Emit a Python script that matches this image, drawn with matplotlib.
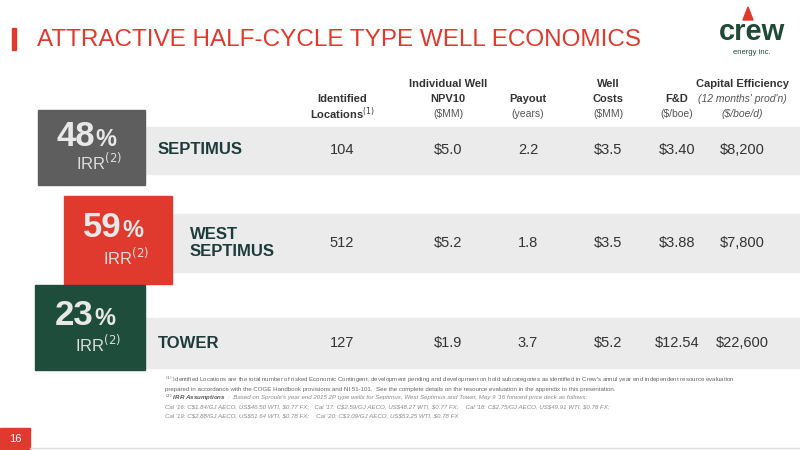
import matplotlib
matplotlib.use("Agg")
import matplotlib.pyplot as plt
from matplotlib.patches import Rectangle, Polygon

plt.rcParams['font.family'] = ['Liberation Sans', 'DejaVu Sans']

areas = ["SEPTIMUS", "WEST\nSEPTIMUS", "TOWER"]
irr = ["48", "59", "23"]
locations = ["104", "512", "127"]
npv10 = ["$5.0", "$5.2", "$1.9"]
payout = ["2.2", "1.8", "3.7"]
well_costs = ["$3.5", "$3.5", "$5.2"]
fd = ["$3.40", "$3.88", "$12.54"]
cap_eff = ["$8,200", "$7,800", "$22,600"]
header_bold = [["Identified", "Locations$^{(1)}$"], ["Individual Well", "NPV10"], ["Payout"],
               ["Well", "Costs"], ["F&D"], ["Capital Efficiency"]]
header_sub = [[], ["($MM)"], ["(years)"], ["($MM)"], ["($/boe)"], ["(12 months' prod'n)", "($/boe/d)"]]

RED = "#e0392d"
fig = plt.figure(figsize=(8, 4.5), dpi=100)
ax = fig.add_axes([0, 0, 1, 1])
ax.set_xlim(0, 800); ax.set_ylim(450, 0); ax.axis("off")

# title
ax.add_patch(Rectangle((12, 28), 4, 22, color=RED))
ax.text(37, 40, "ATTRACTIVE HALF-CYCLE TYPE WELL ECONOMICS", color=RED, fontsize=17.5, va="center")
# logo
ax.text(752, 32, "crew", color="#1f4a38", fontsize=21, fontweight="bold", ha="center", va="center")
ax.add_patch(Polygon([[748, 7], [743, 20], [753, 20]], color=RED))
ax.text(752, 53, "energy inc.", color="#1f4a38", fontsize=5.5, ha="center", va="center")

cols = [342, 448, 528, 608, 677, 742]
for x, hb, hs in zip(cols, header_bold, header_sub):
    lines = [(t, "b") for t in hb] + [(t, "s") for t in hs]
    n = len(lines)
    for k, (t, kind) in enumerate(lines):
        y = 114 - (n - 1 - k) * 15
        if kind == "b":
            ax.text(x, y, t, ha="center", va="center", fontsize=8, fontweight="bold", color="#333")
        else:
            style = "italic" if x == cols[-1] else "normal"
            ax.text(x, y, t, ha="center", va="center", fontsize=7.5, color="#555", style=style)

rows_y = [150, 243, 343]
bands = [(127, 47), (214, 58), (318, 50)]
for (y0, hgt) in bands:
    ax.add_patch(Rectangle((140, y0), 660, hgt, color="#ebebeb", zorder=0))

badges = [((38, 110, 107, 75), "#5e5e5e"), ((64, 196, 108, 88), RED), ((35, 285, 110, 85), "#1e4d3b")]
for (rect, c), v in zip(badges, irr):
    x0, y0, w, hh = rect
    ax.add_patch(Rectangle((x0, y0), w, hh, color=c, zorder=2))
    cx = x0 + w / 2 + 4
    ax.text(cx, y0 + hh * 0.36, v, fontsize=25, fontweight="bold", color="#e8e8e8", ha="right", va="center", zorder=3)
    ax.text(cx, y0 + hh * 0.39, "%", fontsize=17, fontweight="bold", color="#e8e8e8", ha="left", va="center", zorder=3)
    ax.text(cx + 4, y0 + hh * 0.70, "IRR$^{(2)}$", fontsize=12, color="#dddddd", ha="center", va="center", zorder=3)

label_x = [158, 190, 158]
for i, y in enumerate(rows_y):
    ax.text(label_x[i], y, areas[i], fontsize=12, fontweight="bold", color="#1e3b3b", va="center", linespacing=1.2)
    for x, arr in zip(cols, [locations, npv10, payout, well_costs, fd, cap_eff]):
        ax.text(x, y, arr[i], fontsize=10.5, color="#333", ha="center", va="center")

fs = 4.4
ax.text(165, 380, r"$^{(1)}$ Identified Locations are the total number of risked Economic Contingent, development pending and development on hold subcategories as identified in Crew's annul year end independent resource evaluation",
        fontsize=fs, color="#666", va="center")
ax.text(165, 389, "prepared in accordance with the COGE Handbook provisions and NI 51-101.  See the complete details on the resource evaluation in the appendix to this presentation.",
        fontsize=fs, color="#666", va="center")
ax.text(165, 398, r"$^{(2)}$ IRR Assumptions", fontsize=fs, color="#555", va="center", style="italic", fontweight="bold")
ax.text(228, 398, ":  Based on Sproule's year end 2015 2P type wells for Septimus, West Septimus and Tower, May 9 '16 forward price deck as follows:",
        fontsize=fs, color="#888", va="center", style="italic")
ax.text(165, 407, r"Cal '16: C\$1.84/GJ AECO, US\$46.50 WTI, \$0.77 FX;   Cal '17: C\$2.59/GJ AECO, US\$48.27 WTI, \$0.77 FX;    Cal '18: C\$2.75/GJ AECO, US\$49.91 WTI, \$0.78 FX;",
        fontsize=fs, color="#888", va="center", style="italic")
ax.text(165, 416, r"Cal '19: C\$2.88/GJ AECO, US\$51.64 WTI, \$0.78 FX;    Cal '20: C\$3.09/GJ AECO, US\$53.25 WTI, \$0.78 FX",
        fontsize=fs, color="#888", va="center", style="italic")

ax.add_patch(Rectangle((0, 428), 30, 22, color=RED))
ax.text(15, 439, "16", fontsize=8, color="white", ha="center", va="center")
ax.plot([30, 800], [448, 448], color="#dddddd", lw=1)

fig.savefig("out.png", dpi=100)
